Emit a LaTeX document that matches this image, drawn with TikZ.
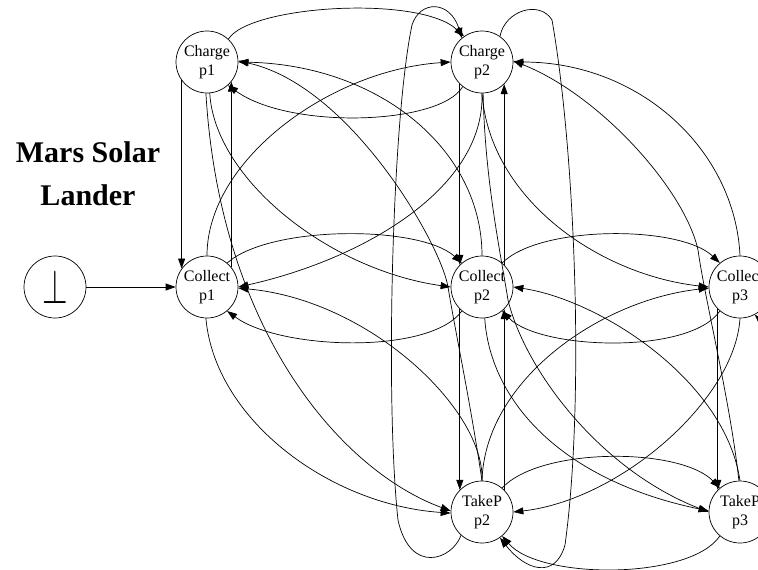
\documentclass[tikz,border=0pt]{standalone}
\usepackage{fontspec}
\setmainfont{Liberation Serif}
\usetikzlibrary{arrows.meta}
\begin{document}
\begin{tikzpicture}[x=1pt,y=-1pt,
  state/.style={circle,draw,line width=0.7pt,minimum size=62pt,inner sep=0pt,align=center,font=\fontsize{16}{19}\selectfont},
  tr/.style={draw,line width=0.7pt,-{Triangle[length=10pt,width=7pt]}},
  titletext/.style={font=\fontsize{30}{36}\selectfont\bfseries,anchor=base}]
\useasboundingbox (0,0) rectangle (758,570);
\clip (0,0) rectangle (758,570);

% states
\node[state] (bot) at (55,287) {\scalebox{1.9}[2.8]{$\perp$}};
\node[state] (cha1) at (207,62) {Charge\\p1};
\node[state] (cha2) at (482,62) {Charge\\p2};
\node[state] (col1) at (207,287) {Collect\\p1};
\node[state] (col2) at (482,287) {Collect\\p2};
\node[state] (col3) at (740,287) {Collect\\p3};
\node[state] (tak2) at (482,512) {TakeP\\p2};
\node[state] (tak3) at (740,512) {TakeP\\p3};

% title
\node[titletext] (title1) at (88,162) {Mars Solar};
\node[titletext] (title2) at (88,205) {Lander};

% straight transitions
\draw[tr] (bot) -- (col1);
\draw[tr] (cha1.216) -- (col1.144);
\draw[tr] (col1.39) -- (cha1.-39);
\draw[tr] (cha2.225) -- (col2.135);
\draw[tr] (col2.45) -- (cha2.-45);
\draw[tr] (col2.225) -- (tak2.135);
\draw[tr] (tak2.45) -- (col2.-45);
\draw[tr] (col3.225) -- (tak3.135);

% arcs between neighbours in a row
\draw[tr] (cha1.47) .. controls (250,5) and (420,-5) .. (cha2.125);
\draw[tr] (cha2.232) .. controls (440,125) and (290,130) .. (cha1.312);
\draw[tr] (col1.50) .. controls (270,225) and (420,225) .. (col2.130);
\draw[tr] (col2.230) .. controls (430,355) and (280,350) .. (col1.310);
\draw[tr] (col2.50) .. controls (540,225) and (680,225) .. (col3.130);
\draw[tr] (col3.230) .. controls (690,355) and (540,350) .. (col2.310);
\draw[tr] (tak2.50) .. controls (540,447) and (680,447) .. (tak3.130);
\draw[tr] (tak3.230) .. controls (690,580) and (540,580) .. (tak2.310);

% transitions out of Charge p1
\draw[tr] (cha1.268) .. controls (220,330) and (340,470) .. (tak2.178);
\draw[tr] (cha1.275) .. controls (215,180) and (330,270) .. (col2.180);

% transitions out of Collect p1
\draw[tr] (col1.268) .. controls (215,420) and (330,505) .. (tak2.182);
\draw[tr] (col1.90) .. controls (207,160) and (330,70) .. (cha2.180);

% transitions out of Collect p2
\draw[tr] (col2.90) .. controls (482,150) and (380,65) .. (cha1.0);
\draw[tr] (col2.275) .. controls (490,400) and (560,480) .. (tak3.178);

% transitions out of Charge p2
\draw[tr] (cha2.270) .. controls (485,190) and (360,260) .. (col1.0);
\draw[tr] (cha2.270) .. controls (490,200) and (600,275) .. (col3.180);
\draw[tr] (cha2.272) .. controls (485,180) and (500,250) .. (508,300)
  .. controls (525,370) and (600,470) .. (tak3.180);
\draw[tr] (cha2.55) .. controls (505,10) and (540,0) .. (552,20)
  .. controls (575,150) and (585,400) .. (565,545)
  .. controls (555,580) and (525,570) .. (tak2.305);

% transitions out of TakeP p2
\draw[tr] (tak2.90) .. controls (470,400) and (455,330) .. (448,287)
  .. controls (441,244) and (350,85) .. (cha1.2);
\draw[tr] (tak2.90) .. controls (485,410) and (370,300) .. (col1.-2);
\draw[tr] (tak2.90) .. controls (485,380) and (600,300) .. (col3.182);
\draw[tr] (tak2.228) .. controls (452,560) and (410,575) .. (398,520)
  .. controls (385,400) and (392,120) .. (412,25)
  .. controls (420,0) and (450,0) .. (cha2.130);

% transitions out of Collect p3
\draw[tr] (col3.90) .. controls (735,150) and (640,62) .. (cha2.0);
\draw[tr] (col3.270) .. controls (735,400) and (620,500) .. (tak2.0);

% transitions out of TakeP p3
\draw[tr] (tak3.92) .. controls (730,400) and (705,300) .. (698,250)
  .. controls (685,190) and (600,95) .. (cha2.2);
\draw[tr] (tak3.90) .. controls (725,380) and (600,300) .. (col2.0);
\draw[tr] (tak3.40) .. controls (800,440) and (790,350) .. (col3.-62);
\end{tikzpicture}
\end{document}
